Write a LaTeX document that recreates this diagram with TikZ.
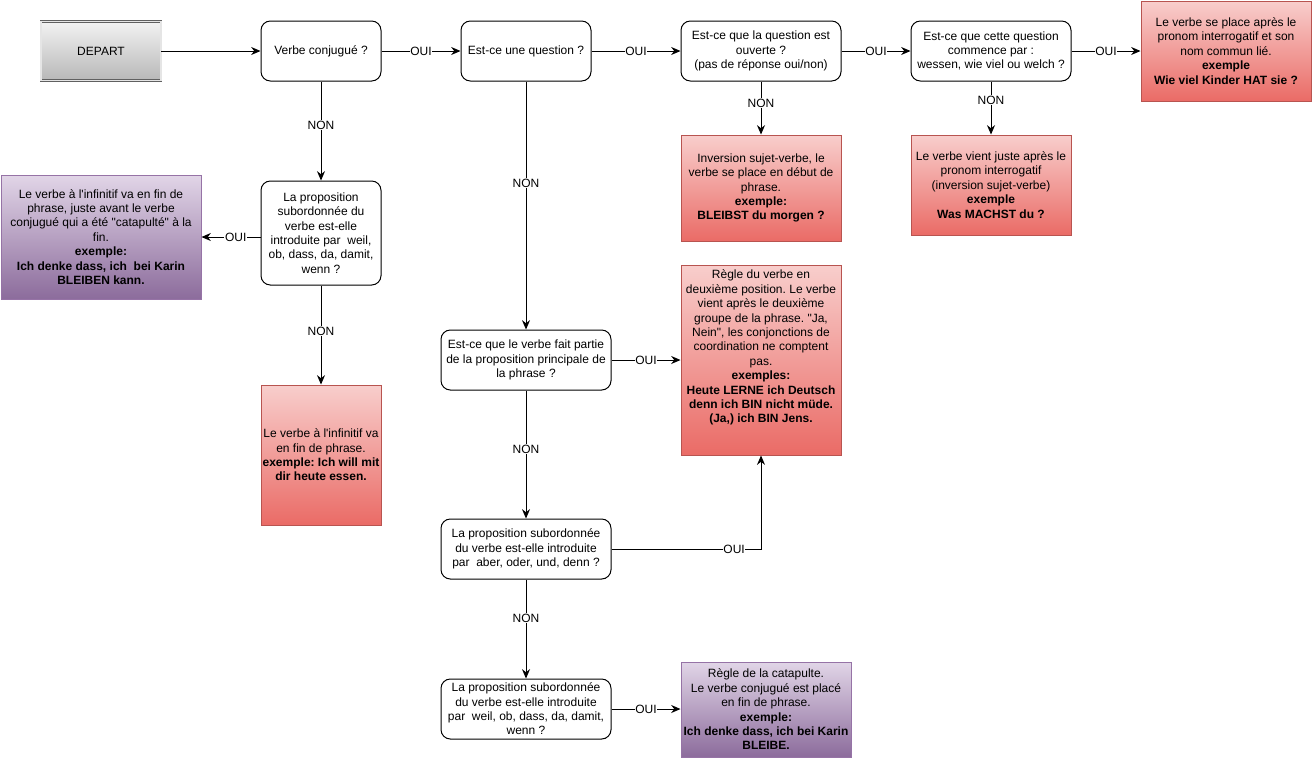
\documentclass[tikz,border=0pt]{standalone}
\usepackage{fontspec}
\setmainfont{Liberation Sans}
\usetikzlibrary{arrows.meta}
\frenchspacing

\definecolor{redtop}{HTML}{F8CECC}
\definecolor{redbot}{HTML}{EA6B66}
\definecolor{redline}{HTML}{B85450}
\definecolor{purtop}{HTML}{E1D5E7}
\definecolor{purbot}{HTML}{8C6C9C}
\definecolor{purline}{HTML}{9673A6}
\definecolor{graytop}{HTML}{F2F2F2}
\definecolor{graybot}{HTML}{B8B8B8}

\begin{document}
\begin{tikzpicture}[x=0.75pt, y=-0.75pt,
    every node/.style={font=\fontsize{9}{10.8}\selectfont, align=center},
    startbox/.style={rectangle, draw=gray!75!black, double=white!80!gray, double distance=1pt, line width=0.5pt, top color=graytop, bottom color=graybot, inner sep=1pt},
    question/.style={rectangle, rounded corners=7pt, draw, line width=0.75pt, fill=white, inner xsep=1pt, inner ysep=1pt},
    redbox/.style={rectangle, draw=redline, line width=0.75pt, top color=redtop, bottom color=redbot, inner xsep=1pt, inner ysep=1pt},
    purplebox/.style={rectangle, draw=purline, line width=0.75pt, top color=purtop, bottom color=purbot, inner xsep=1pt, inner ysep=1pt},
    flow/.style={line width=0.75pt, -{Stealth[length=7pt, width=6pt]}},
    lbl/.style={fill=white, inner sep=0.5pt}]
        \useasboundingbox (0, 0) rectangle (1313, 758);

        % top row
        \node (depart) [startbox, minimum width=90pt, minimum height=44.25pt] at (101, 51) {DEPART};
        \node (conj) [question, minimum width=90pt, minimum height=45pt] at (321, 51) {Verbe conjugué ?};
        \node (quest) [question, minimum width=97.5pt, minimum height=45pt] at (526, 51) {Est-ce une question ?};
        \node (ouverte) [question, minimum width=120pt, minimum height=45pt] at (761, 51)
            {Est-ce que la question est\\ ouverte ?\\ (pas de réponse oui/non)};
        \node (commence) [question, minimum width=120pt, minimum height=45pt] at (991, 51)
            {Est-ce que cette question\\ commence par :\\ wessen, wie viel ou welch ?};
        \node (lie) [redbox, minimum width=127.5pt, minimum height=75pt] at (1226, 51)
            {Le verbe se place après le\\ pronom interrogatif et son\\ nom commun lié.\\ \textbf{exemple}\\ \textbf{Wie viel Kinder HAT sie ?}};

        % answers under the open questions
        \node (inversion) [redbox, minimum width=120pt, minimum height=79.5pt] at (761, 188)
            {Inversion sujet-verbe, le\\ verbe se place en début de\\ phrase.\\ \textbf{exemple:}\\ \textbf{BLEIBST du morgen ?}};
        \node (vient) [redbox, minimum width=120pt, minimum height=75pt] at (991, 185)
            {Le verbe vient juste après le\\ pronom interrogatif\\ (inversion sujet-verbe)\\ \textbf{exemple}\\ \textbf{Was MACHST du ?}};

        % left column
        \node (subord1) [question, minimum width=90pt, minimum height=78pt] at (321, 233)
            {La proposition\\ subordonnée du\\ verbe est-elle\\ introduite par\ \ weil,\\ ob, dass, da, damit,\\ wenn ?};
        \node (catap1) [purplebox, minimum width=150pt, minimum height=93pt] at (101, 237)
            {Le verbe à l\textquotesingle infinitif va en fin de\\ phrase, juste avant le verbe\\ conjugué qui a été \textquotedbl catapulté\textquotedbl{} à la\\ fin.\\ \textbf{exemple:}\\ \textbf{Ich denke dass, ich\ \ bei Karin}\\ \textbf{BLEIBEN kann.}};
        \node (infinitif) [redbox, minimum width=90pt, minimum height=105pt] at (321, 455)
            {Le verbe à l\textquotesingle infinitif va\\ en fin de phrase.\\ \textbf{exemple: Ich will mit}\\ \textbf{dir heute essen.}};

        % middle column
        \node (principale) [question, minimum width=127.5pt, minimum height=45pt] at (526, 360)
            {Est-ce que le verbe fait partie\\ de la proposition principale de\\ la phrase ?};
        \node (deuxieme) [redbox, minimum width=120pt, minimum height=142.5pt] at (761, 360) {};
        \node (deuxiemetxt) [anchor=north, inner sep=1pt, yshift=-3pt] at (deuxieme.north)
            {Règle du verbe en\\ deuxième position. Le verbe\\ vient après le deuxième\\ groupe de la phrase. \textquotedbl Ja,\\ Nein\textquotedbl, les conjonctions de\\ coordination ne comptent\\ pas.\\ \textbf{exemples:}\\ \textbf{Heute LERNE ich Deutsch}\\ \textbf{denn ich BIN nicht müde.}\\ \textbf{(Ja,) ich BIN Jens.}};
        \node (coord) [question, minimum width=127.5pt, minimum height=45pt] at (526, 549)
            {La proposition subordonnée\\ du verbe est-elle introduite\\ par\ \ aber, oder, und, denn ?};
        \node (subord2) [question, minimum width=127.5pt, minimum height=45pt] at (526, 709)
            {La proposition subordonnée\\ du verbe est-elle introduite\\ par\ \ weil, ob, dass, da, damit,\\ wenn ?};
        \node (catap2) [purplebox, minimum width=127.5pt, minimum height=71.25pt] at (766, 709.5)
            {Règle de la catapulte.\\ Le verbe conjugué est placé\\ en fin de phrase.\\ \textbf{exemple:}\\ \textbf{Ich denke dass, ich bei Karin}\\ \textbf{BLEIBE.}};

        \path[flow]
        (depart.east) edge (conj.west)
        (conj) edge node[lbl] {OUI} (quest)
        (quest) edge node[lbl] {OUI} (ouverte)
        (ouverte) edge node[lbl] {OUI} (commence)
        (commence) edge node[lbl] {OUI} (lie)

        (ouverte) edge node[lbl, pos=.41] {NON} (inversion)
        (commence) edge node[lbl, pos=.35] {NON} (vient)

        (conj) edge node[lbl, pos=.44] {NON} (subord1)
        (subord1.west |- catap1.east) edge node[lbl, pos=.42] {OUI} (catap1.east)
        (subord1) edge node[lbl, pos=.46] {NON} (infinitif)

        (quest) edge node[lbl, pos=.41] {NON} (principale)
        (principale) edge node[lbl] {OUI} (deuxieme)
        (principale) edge node[lbl, pos=.46] {NON} (coord)
        (coord) edge node[lbl, pos=.39] {NON} (subord2)
        (subord2.east) edge node[lbl] {OUI} (subord2.east -| catap2.west)
        ;
        \draw[flow] (coord.east) -| node[lbl, pos=.41] {OUI} (deuxieme.south);
      \end{tikzpicture}
\end{document}
